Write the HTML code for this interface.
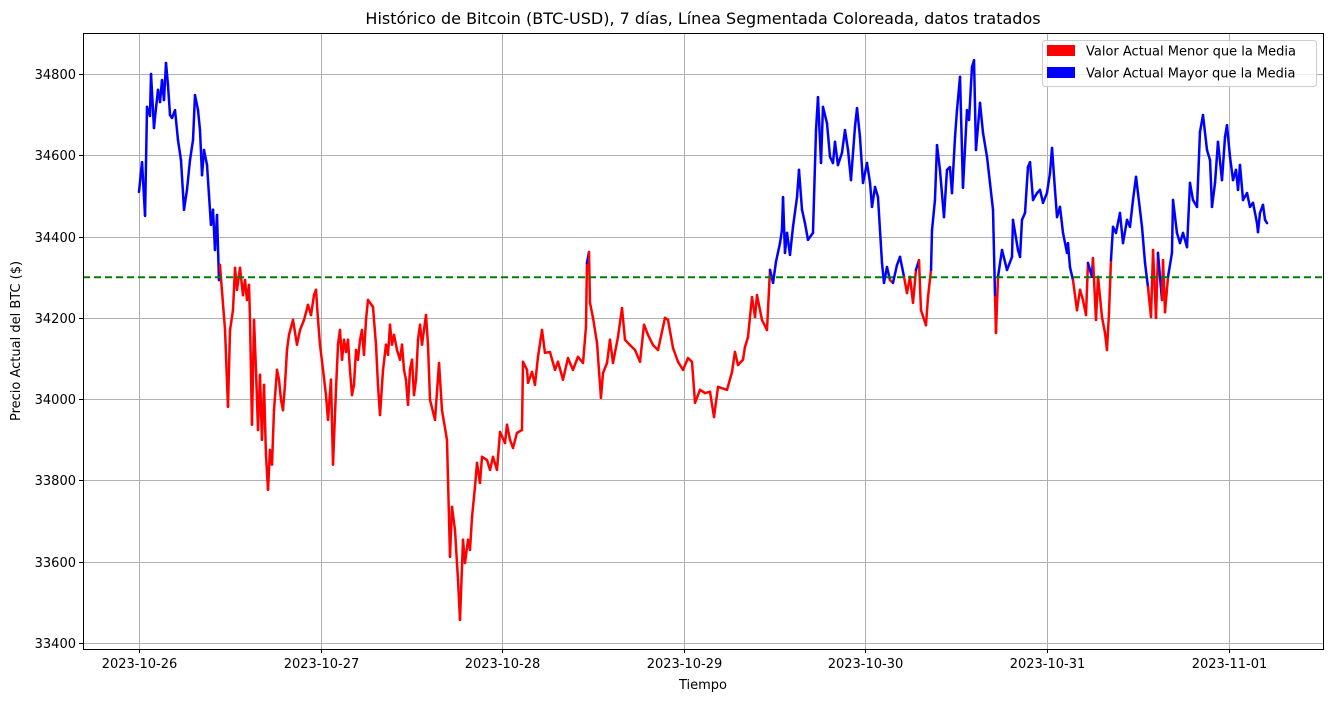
<!DOCTYPE html>
<html><head><meta charset="utf-8">
<style>
html,body{margin:0;padding:0;background:#fff;}
svg{display:block;font-family:"DejaVu Sans","Liberation Sans",sans-serif;}
</style></head>
<body>
<svg id="chart" width="1333" height="702" viewBox="0 0 1333 702" xmlns="http://www.w3.org/2000/svg">
<text x="703" y="24" font-size="16" text-anchor="middle" fill="#000">Histórico de Bitcoin (BTC-USD), 7 días, Línea Segmentada Coloreada, datos tratados</text>
<g id="grid"></g>
<g id="series"></g>
<g id="meanline"></g>
<rect x="83.5" y="33.5" width="1240" height="616" fill="none" stroke="#000" stroke-width="1"/>
<g id="ticks"></g>
<text x="703" y="689" font-size="13" text-anchor="middle">Tiempo</text>
<text transform="translate(20,341) rotate(-90)" font-size="13" text-anchor="middle">Precio Actual del BTC ($)</text>
<g>
<rect x="1042.5" y="40.5" width="274" height="46" rx="3" fill="#fff" fill-opacity="0.8" stroke="#ccc"/>
<rect x="1047" y="45" width="28" height="11" fill="#ff0000"/>
<text x="1086" y="55.5" font-size="13">Valor Actual Menor que la Media</text>
<rect x="1047" y="67" width="28" height="11" fill="#0000ff"/>
<text x="1086" y="77.5" font-size="13">Valor Actual Mayor que la Media</text>
</g>
</svg>
<script>
const hours=[0,0.4,0.8,1.06,1.45,1.59,1.98,2.11,2.51,2.78,3.04,3.30,3.57,3.83,4.10,4.36,4.76,5.15,5.55,5.95,6.34,6.74,7.14,7.40,7.80,8.06,8.33,8.59,8.99,9.25,9.51,9.78,10.04,10.31,10.57,10.70,
11.37,11.76,12.03,12.42,12.69,12.95,13.35,13.74,14.01,14.27,14.54,14.67,14.93,15.20,15.46,15.73,15.99,16.25,16.52,16.78,17.05,17.31,17.58,17.84,18.24,18.50,18.77,19.03,19.29,19.56,
19.82,20.35,20.88,21.28,21.81,22.33,22.73,23.13,23.39,23.66,23.92,24.32,24.71,24.98,25.37,25.64,26.03,26.30,26.56,26.83,27.09,27.36,27.62,27.88,28.15,28.41,28.68,28.94,29.21,29.47,29.73,30.00,30.26,30.92,31.32,31.58,31.85,32.25,32.64,32.91,33.17,33.43,33.70,34.10,34.49,34.76,35.02,35.28,35.55,35.81,36.08,36.34,36.61,36.87,37.14,37.40,37.66,37.93,38.19,38.46,
39.12,39.65,40.04,40.70,41.10,41.36,41.76,42.16,42.42,42.82,43.08,43.48,43.74,44.01,44.40,44.67,45.06,45.33,45.99,46.39,46.78,47.31,47.71,48.37,48.63,49.03,49.43,49.95,50.61,50.75,51.28,51.41,51.94,52.33,52.73,53.26,53.65,54.31,54.98,55.37,56.03,56.69,57.35,58.01,58.68,59.07,59.20,59.47,59.60,60.00,60.53,61.05,61.32,61.85,62.24,62.64,63.30,63.83,64.23,64.89,65.55,66.21,66.74,67.27,67.93,68.59,69.51,69.91,70.57,71.23,71.89,72.55,73.08,73.48,74.14,74.80,75.46,75.99,76.52,
77.71,78.37,78.76,79.16,79.82,80.08,80.48,81.01,81.41,81.67,82.33,82.99,83.39,83.79,84.18,84.71,84.97,85.11,85.37,85.64,86.03,86.43,86.96,87.22,87.62,88.01,88.41,89.07,89.47,89.73,90.13,90.39,90.92,91.32,91.71,91.98,92.37,92.90,93.30,93.70,94.09,94.62,94.89,95.28,95.68,96.21,96.61,96.87,97.27,97.66,98.19,98.45,98.85,99.25,99.64,100.17,100.57,101.10,101.49,101.89,102.29,102.68,103.08,103.34,104.00,104.27,104.67,104.80,105.19,105.46,105.85,106.38,106.78,107.17,107.44,107.84,108.10,108.50,108.89,109.42,109.69,110.08,110.35,110.61,111.14,111.54,112.07,112.46,112.86,113.13,113.25,113.52,
114.05,114.71,115.37,115.50,116.16,116.43,116.69,117.09,117.48,117.75,118.15,118.67,119.07,119.47,119.99,120.39,120.66,121.05,121.32,121.71,122.11,122.64,122.77,123.03,123.43,123.96,124.36,124.75,125.15,125.41,125.94,126.07,126.47,126.74,127.26,127.66,127.92,128.19,128.45,128.72,129.11,129.64,130.04,130.57,130.96,131.36,131.76,132.02,132.55,132.95,133.34,133.74,134.01,134.40,134.66,135.19,135.33,135.59,135.99,136.51,136.65,137.17,137.57,137.97,138.50,138.89,139.29,139.82,140.21,140.61,141.14,141.54,141.80,142.20,142.59,143.12,143.52,143.78,144.18,144.58,144.97,145.24,145.50,145.90,146.43,146.82,147.22,147.75,147.88,148.14,148.54,148.81,149.07];
const prices=[34510,34583,34451,34719,34697,34800,34667,34692,34761,34731,34785,34736,34827,34773,34699,34692,34711,34638,34588,34466,34515,34588,34638,34748,34711,34662,34551,34613,34576,34502,34429,34466,34367,34453,34293,34330,
34170,33981,34170,34219,34323,34269,34323,34256,34293,34244,34281,34195,33937,34195,34072,33924,34060,33900,34035,33863,33777,33875,33839,33973,34072,34048,33998,33973,34035,34121,
34158,34195,34134,34170,34195,34232,34207,34256,34269,34195,34134,34072,34010,33949,34048,33839,34023,34134,34170,34097,34146,34116,34146,34072,34010,34035,34121,34097,34146,34170,34109,34195,34244,34227,34134,34035,33961,34072,34134,34109,34183,34134,34158,34121,34097,34134,34072,34048,33986,34072,34097,34010,34048,34146,34183,34134,34170,34207,34134,33998,
33949,34089,33973,33900,33612,33735,33678,33555,33457,33654,33597,33654,33629,33710,33784,33843,33794,33858,33850,33826,33858,33826,33919,33892,33937,33900,33880,33917,33924,34092,34072,34040,34067,34035,34104,34170,34114,34116,34072,34092,34048,34101,34072,34104,34089,34178,34335,34362,34237,34200,34138,34003,34064,34089,34146,34089,34153,34224,34146,34133,34121,34092,34183,34158,34133,34121,34200,34195,34126,34092,34072,34101,34092,33991,34023,34015,34018,33956,34030,
34023,34067,34116,34084,34097,34128,34153,34251,34202,34256,34195,34170,34318,34286,34338,34384,34416,34497,34360,34409,34355,34424,34497,34564,34466,34433,34392,34409,34662,34743,34581,34719,34679,34596,34581,34633,34576,34606,34662,34613,34539,34670,34716,34645,34532,34581,34532,34473,34522,34497,34335,34286,34325,34293,34286,34330,34350,34301,34261,34301,34237,34318,34342,34219,34182,34251,34318,34416,34490,34625,34564,34448,34564,34571,34507,34645,34711,34793,34520,34711,34687,34817,34834,34613,34729,34655,34596,34532,34466,34251,34163,34301,
34367,34318,34350,34441,34367,34350,34441,34458,34571,34583,34490,34507,34515,34483,34507,34556,34618,34515,34448,34473,34409,34360,34384,34325,34293,34219,34269,34244,34207,34335,34301,34347,34195,34301,34202,34163,34121,34212,34342,34424,34409,34458,34384,34441,34424,34490,34547,34507,34424,34335,34276,34202,34367,34200,34360,34244,34342,34214,34301,34360,34490,34409,34384,34409,34374,34532,34490,34473,34657,34699,34613,34588,34473,34532,34633,34539,34645,34674,34596,34539,34564,34515,34576,34490,34507,34473,34483,34433,34411,34458,34478,34441,34433];
const meanValue=34300;
const yTicks=[33400,33600,33800,34000,34200,34400,34600,34800];
const xTickHours=[0,24,48,72,96,120,144];
const xTickLabels=["2023-10-26","2023-10-27","2023-10-28","2023-10-29","2023-10-30","2023-10-31","2023-11-01"];

const NS="http://www.w3.org/2000/svg";
const L=83,R=1323,T=33,B=649;
const hMin=-7.4,hMax=156.47,vMin=33385.2,vMax=34900.9;
function xs(h){return L+(h-hMin)/(hMax-hMin)*(R-L);}
function ys(v){return B-(v-vMin)/(vMax-vMin)*(B-T);}
function mk(tag,attrs,parent){const e=document.createElementNS(NS,tag);for(const k in attrs)e.setAttribute(k,attrs[k]);parent.appendChild(e);return e;}

const grid=document.getElementById('grid'),ticks=document.getElementById('ticks');
yTicks.forEach(v=>{
  const y=Math.round(ys(v))+0.5;
  const g=mk('line',{x1:L,x2:R,y1:y,y2:y,stroke:'#b0b0b0','stroke-width':1},grid);
  
  
  const t=mk('line',{x1:L-4,x2:L,y1:y,y2:y,stroke:'#000'},ticks);
  
  
  const tx=mk('text',{x:L-7,y:y+4.5,'font-size':13,'text-anchor':'end'},ticks);
  
  
  tx.textContent=v;
});
xTickHours.forEach((h,i)=>{
  const x=Math.round(xs(h))+0.5;
  const g=mk('line',{x1:x,x2:x,y1:T,y2:B,stroke:'#b0b0b0','stroke-width':1},grid);
  
  
  const t=mk('line',{x1:x,x2:x,y1:B,y2:B+4,stroke:'#000'},ticks);
  
  
  const tx=mk('text',{x:x,y:B+19,'font-size':13,'text-anchor':'middle'},ticks);
  
  
  tx.textContent=xTickLabels[i];
});
const series=document.getElementById('series');
for(let i=0;i<prices.length-1;i++){
  const below=(prices[i]+prices[i+1])/2<meanValue;
  const s=mk('line',{x1:xs(hours[i]),y1:ys(prices[i]),x2:xs(hours[i+1]),y2:ys(prices[i+1]),stroke:below?'#ff0000':'#0000ff','stroke-width':2.5,'stroke-linecap':'round'},series);
  
  
}
const m=mk('line',{x1:L,x2:R,y1:ys(meanValue),y2:ys(meanValue),stroke:'#008000','stroke-width':2,'stroke-dasharray':'7,4'},document.getElementById('meanline'));


</script>
</body></html>
